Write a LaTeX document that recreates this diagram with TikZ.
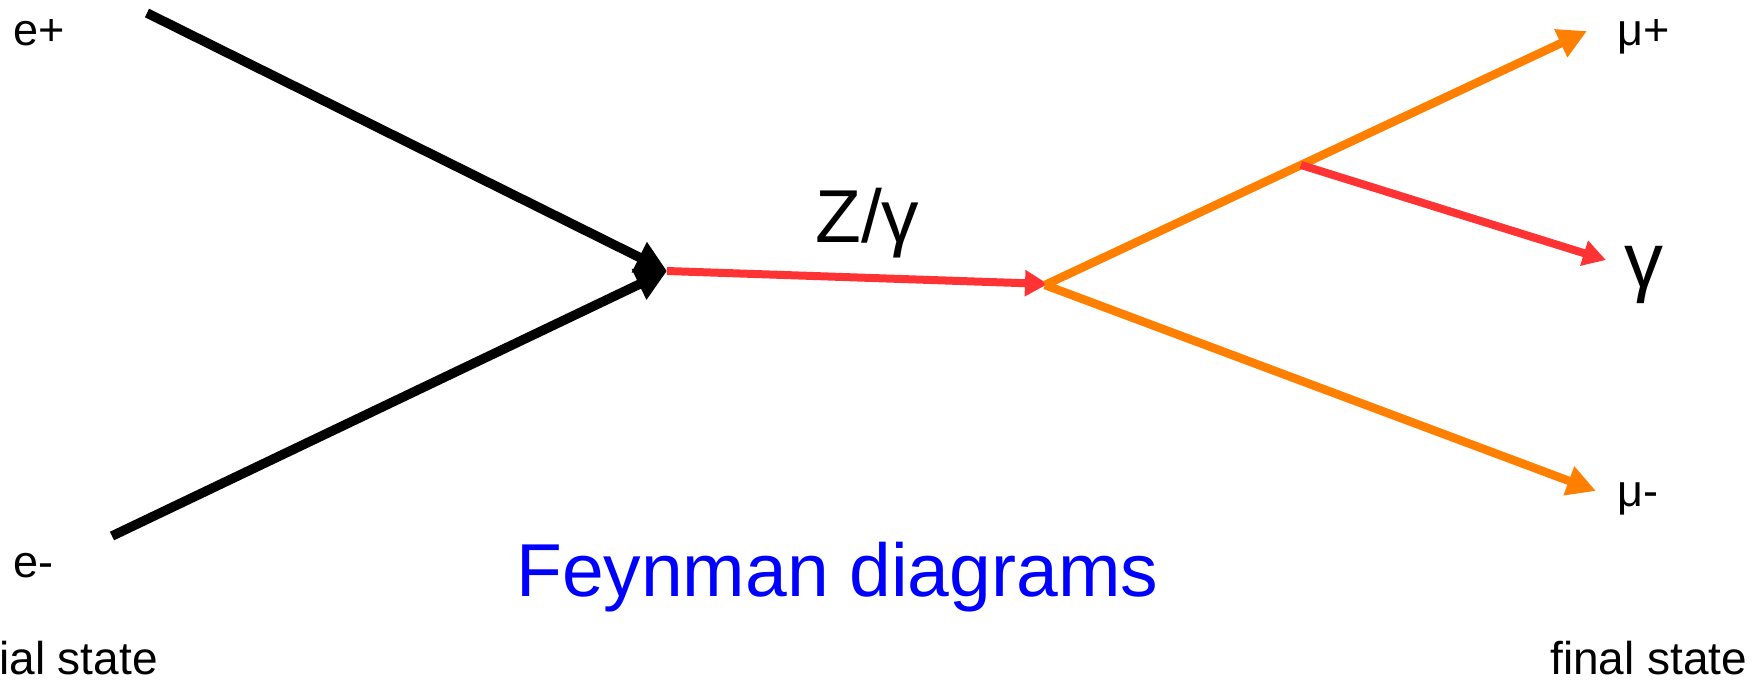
\documentclass[tikz,border=0pt]{standalone}
\usepackage{fontspec}
\setmainfont{Liberation Sans}
\usetikzlibrary{arrows.meta}
\definecolor{fred}{RGB}{255,51,51}
\definecolor{forange}{RGB}{255,128,0}
\definecolor{fblue}{RGB}{0,0,255}
\begin{document}
\begin{tikzpicture}[x=1pt,y=-1pt,
  fermion/.style={line width=9.5pt,black,-{Triangle[length=31pt,width=32pt]}},
  boson/.style={line width=8pt,fred,-{Triangle[length=23pt,width=25pt]}},
  muon/.style={line width=8.5pt,forange,-{Triangle[length=29pt,width=29pt]}},
  lbl/.style={inner sep=0pt,anchor=base west,font=\fontsize{45}{50}\selectfont},
  statelbl/.style={inner sep=0pt,anchor=base west,font=\fontsize{46}{50}\selectfont},
  biglbl/.style={inner sep=0pt,anchor=base west,font=\fontsize{77}{84}\selectfont}]
\useasboundingbox (0,0) rectangle (1758,681);
\begin{scope}
\clip (0,0) rectangle (1758,681);
\coordinate (eplus) at (147,13);
\coordinate (eminus) at (112,536);
\coordinate (v1) at (667,271);
\coordinate (v2) at (1048,284);
\coordinate (vo) at (1045,285);
\coordinate (muplus) at (1587,31);
\coordinate (muminus) at (1596,491);
\coordinate (gsplit) at (1301,165);
\coordinate (gam) at (1606,260);
\draw[fermion] (eplus) -- (v1);
\draw[fermion] (eminus) -- (v1);
\draw[boson] (v1) -- (v2);
\draw[muon] (vo) -- (muplus);
\draw[muon] (vo) -- (muminus);
\draw[boson] (gsplit) -- (gam);
\node[lbl] (tep) at (13,45) {e+};
\node[lbl] (tem) at (13,577) {e-};
\node[lbl] (tmp) at (1617,45) {μ+};
\node[lbl] (tmm) at (1617,506) {μ-};
\node[biglbl,font=\fontsize{78}{84}\selectfont] (tg) at (1624,287) {γ};
\node[biglbl,font=\fontsize{75}{84}\selectfont] (tz) at (815,242) {Z/γ};
\node[biglbl,font=\fontsize{75}{84}\selectfont,text=fblue] (tf) at (516,596) {Feynman diagrams};
\node[statelbl,anchor=base east] (tis) at (158,674) {initial state};
\node[statelbl] (tfs) at (1550,674) {final state};
\end{scope}
\end{tikzpicture}
\end{document}
